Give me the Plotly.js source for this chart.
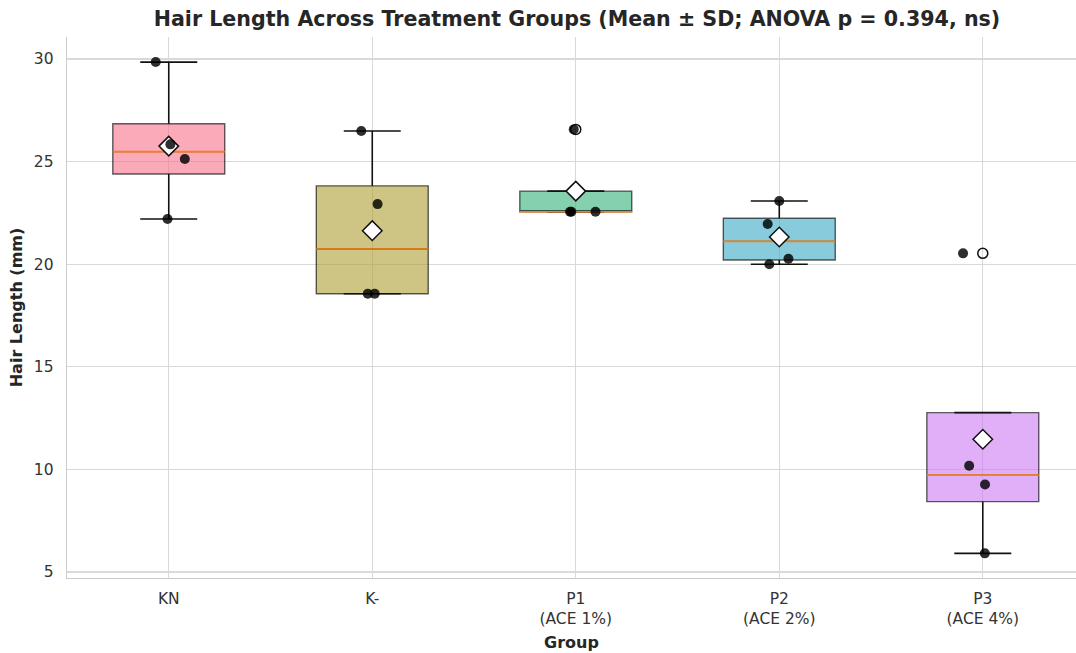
<!DOCTYPE html>
<html>
<head>
<meta charset="utf-8">
<script src="https://cdn.plot.ly/plotly-3.0.1.min.js"></script>
<style>html,body{margin:0;padding:0;background:#fff;}#chart{width:1076px;height:653px;}</style>
</head>
<body>
<div id="chart"></div>
<script>
// ---- data ----
const groups = ['KN', 'K-', 'P1', 'P2', 'P3'];
const tickLabels = ['KN', 'K-', 'P1<br>(ACE 1%)', 'P2<br>(ACE 2%)', 'P3<br>(ACE 4%)'];
const yTicks = [5, 10, 15, 20, 25, 30];

const knValues     = [29.85, 25.84, 25.13, 22.20];
const kMinusValues = [26.49, 22.93, 18.56, 18.56];
const p1Values     = [26.57, 22.56, 22.56, 22.56];
const p2Values     = [23.08, 21.96, 20.27, 20.00];
const p3Values     = [20.53, 10.18, 9.27, 5.91];

// horizontal jitter of the individual points (category units), as seen in the picture
const knJitter     = [-0.064, 0.008, 0.079, -0.006];
const kMinusJitter = [-0.054, 0.026, -0.022, 0.012];
const p1Jitter     = [-0.010, -0.028, 0.097, -0.022];
const p2Jitter     = [0.000, -0.057, 0.045, -0.049];
const p3Jitter     = [-0.097, -0.067, 0.011, 0.010];

const groupColors = ['#f77189', '#ae9d31', '#33b07a', '#38a9c5', '#cc7af4'];

// ---- helpers ----
const allValues = [knValues, kMinusValues, p1Values, p2Values, p3Values];
const allJitter = [knJitter, kMinusJitter, p1Jitter, p2Jitter, p3Jitter];

function pct(sorted, p) {
  const pos = (sorted.length - 1) * p;
  const lo = Math.floor(pos), hi = Math.ceil(pos);
  return sorted[lo] + (pos - lo) * (sorted[hi] - sorted[lo]);
}
function rgba(hex, a) {
  const r = parseInt(hex.slice(1, 3), 16), g = parseInt(hex.slice(3, 5), 16), b = parseInt(hex.slice(5, 7), 16);
  return 'rgba(' + r + ',' + g + ',' + b + ',' + a + ')';
}

const stats = allValues.map(v => {
  const s = v.slice().sort((a, b) => a - b);
  const q1 = pct(s, 0.25), med = pct(s, 0.5), q3 = pct(s, 0.75);
  const iqr = q3 - q1;
  const loF = q1 - 1.5 * iqr, hiF = q3 + 1.5 * iqr;
  const inside = s.filter(x => x >= loF && x <= hiF);
  let wlo = Math.min(...inside), whi = Math.max(...inside);
  if (wlo > q1) wlo = q1;
  if (whi < q3) whi = q3;
  const fliers = s.filter(x => x < loF || x > hiF);
  const mean = s.reduce((a, b) => a + b, 0) / s.length;
  return {q1, med, q3, wlo, whi, fliers, mean};
});

const BOXW = 0.55, CAPW = 0.14;
const traces = [];

// boxes
stats.forEach((st, i) => {
  traces.push({
    type: 'box', x: [i], q1: [st.q1], median: [st.med], q3: [st.q3],
    lowerfence: [st.q1], upperfence: [st.q3],
    width: BOXW, whiskerwidth: 0, boxpoints: false,
    fillcolor: rgba(groupColors[i], 0.6),
    line: {color: 'rgba(0,0,0,0.62)', width: 1.4},
    hoverinfo: 'skip', showlegend: false
  });
});

// whiskers + caps
const wx = [], wy = [];
stats.forEach((st, i) => {
  wx.push(i, i, null, i, i, null, i - CAPW, i + CAPW, null, i - CAPW, i + CAPW, null);
  wy.push(st.q3, st.whi, null, st.q1, st.wlo, null, st.whi, st.whi, null, st.wlo, st.wlo, null);
});
traces.push({type: 'scatter', mode: 'lines', x: wx, y: wy, line: {color: '#111111', width: 1.6}, hoverinfo: 'skip', showlegend: false});

// medians
const mx = [], my = [];
stats.forEach((st, i) => { mx.push(i - BOXW / 2, i + BOXW / 2, null); my.push(st.med, st.med, null); });
traces.push({type: 'scatter', mode: 'lines', x: mx, y: my, line: {color: '#ff7f0e', width: 1.6}, hoverinfo: 'skip', showlegend: false});

// fliers
const fx = [], fy = [];
stats.forEach((st, i) => st.fliers.forEach(f => { fx.push(i); fy.push(f); }));
traces.push({type: 'scatter', mode: 'markers', x: fx, y: fy,
  marker: {symbol: 'circle', size: 10, color: 'rgba(255,255,255,0)', line: {color: '#111111', width: 1.5}},
  hoverinfo: 'skip', showlegend: false});

// means
traces.push({type: 'scatter', mode: 'markers', x: groups.map((g, i) => i), y: stats.map(s => s.mean),
  marker: {symbol: 'diamond', size: 15, color: '#ffffff', line: {color: '#111111', width: 1.5}},
  hoverinfo: 'skip', showlegend: false});

// individual points
allValues.forEach((v, i) => {
  traces.push({type: 'scatter', mode: 'markers',
    x: v.map((_, k) => i + allJitter[i][k]), y: v,
    marker: {symbol: 'circle', size: 10, color: 'rgba(0,0,0,0.82)', line: {width: 0}},
    hoverinfo: 'skip', showlegend: false});
});

const textColor = '#262626';
const layout = {
  width: 1076, height: 653,
  margin: {l: 67, r: 0, t: 37, b: 75},
  paper_bgcolor: '#ffffff', plot_bgcolor: '#ffffff',
  showlegend: false,
  font: {family: 'DejaVu Sans, sans-serif', color: textColor},
  title: {
    text: 'Hair Length Across Treatment Groups (Mean ± SD; ANOVA p = 0.394, ns)',
    font: {family: 'DejaVu Sans, sans-serif', size: 20.6, weight: 'bold', color: textColor},
    x: 577 / 1076, xref: 'container', xanchor: 'center',
    y: 1 - 19 / 653, yref: 'container', yanchor: 'middle'
  },
  xaxis: {
    range: [-0.5, 4.458], tickmode: 'array', tickvals: groups.map((g, i) => i), ticktext: tickLabels,
    showgrid: true, gridcolor: '#d9d9d9', gridwidth: 1.3,
    showline: true, linecolor: '#cccccc', linewidth: 1.3, zeroline: false,
    ticks: '', ticklabelstandoff: 6,
    tickfont: {family: 'DejaVu Sans, sans-serif', size: 15.5, color: '#333333'},
    title: {text: 'Group', standoff: 9, font: {family: 'DejaVu Sans, sans-serif', size: 16, weight: 'bold', color: textColor}},
    fixedrange: true
  },
  yaxis: {
    range: [4.71, 31.072], tickmode: 'array', tickvals: yTicks,
    showgrid: true, gridcolor: '#d9d9d9', gridwidth: 1.3,
    showline: true, linecolor: '#cccccc', linewidth: 1.3, zeroline: false,
    ticks: '', ticklabelstandoff: 9,
    tickfont: {family: 'DejaVu Sans, sans-serif', size: 15.5, color: '#333333'},
    title: {text: 'Hair Length (mm)', standoff: 7, font: {family: 'DejaVu Sans, sans-serif', size: 16, weight: 'bold', color: textColor}},
    fixedrange: true
  }
};

Plotly.newPlot('chart', traces, layout, {displayModeBar: false, staticPlot: true});
</script>
</body>
</html>
